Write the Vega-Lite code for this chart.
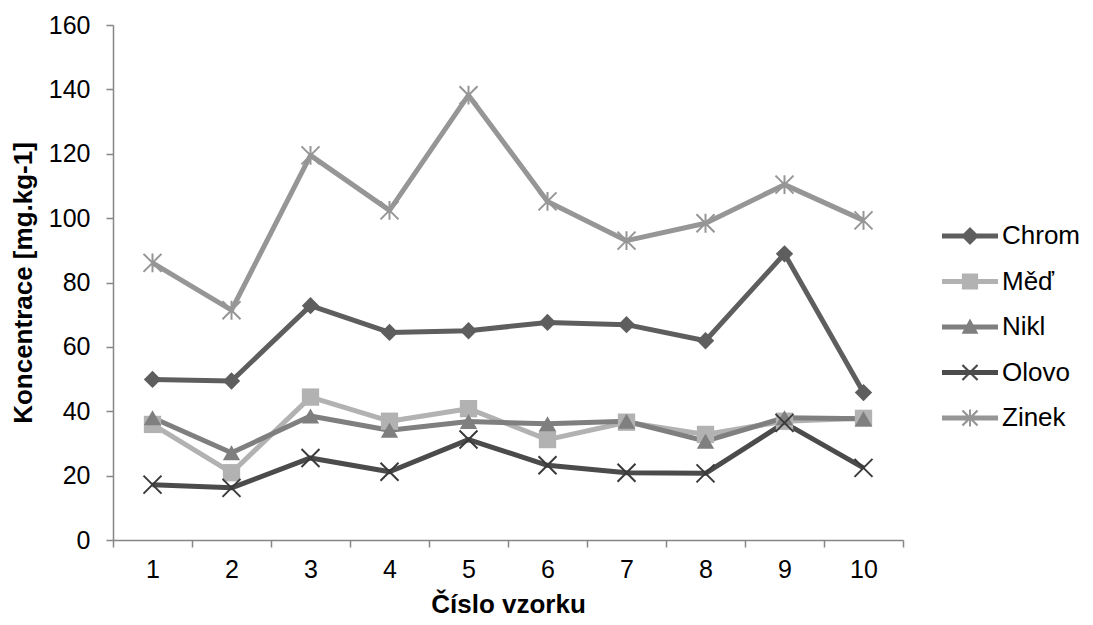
{
  "$schema": "https://vega.github.io/schema/vega-lite/v6.json",
  "width": 790,
  "height": 515,
  "autosize": {"type": "none"},
  "padding": {"left": 113, "top": 25, "right": 190, "bottom": 85},
  "background": "white",
  "config": {"view": {"stroke": null}, "font": "Liberation Sans"},
  "data": {
    "values": [
      {"vzorek": 1, "kov": "Chrom", "hodnota": 49.9},
      {"vzorek": 2, "kov": "Chrom", "hodnota": 49.4},
      {"vzorek": 3, "kov": "Chrom", "hodnota": 72.8},
      {"vzorek": 4, "kov": "Chrom", "hodnota": 64.5},
      {"vzorek": 5, "kov": "Chrom", "hodnota": 65.0},
      {"vzorek": 6, "kov": "Chrom", "hodnota": 67.6},
      {"vzorek": 7, "kov": "Chrom", "hodnota": 66.9},
      {"vzorek": 8, "kov": "Chrom", "hodnota": 61.9},
      {"vzorek": 9, "kov": "Chrom", "hodnota": 88.9},
      {"vzorek": 10, "kov": "Chrom", "hodnota": 45.8},
      {"vzorek": 1, "kov": "Měď", "hodnota": 35.9},
      {"vzorek": 2, "kov": "Měď", "hodnota": 20.9},
      {"vzorek": 3, "kov": "Měď", "hodnota": 44.4},
      {"vzorek": 4, "kov": "Měď", "hodnota": 36.9},
      {"vzorek": 5, "kov": "Měď", "hodnota": 40.8},
      {"vzorek": 6, "kov": "Měď", "hodnota": 31.2},
      {"vzorek": 7, "kov": "Měď", "hodnota": 36.6},
      {"vzorek": 8, "kov": "Měď", "hodnota": 32.8},
      {"vzorek": 9, "kov": "Měď", "hodnota": 36.9},
      {"vzorek": 10, "kov": "Měď", "hodnota": 37.8},
      {"vzorek": 1, "kov": "Nikl", "hodnota": 38.0},
      {"vzorek": 2, "kov": "Nikl", "hodnota": 27.1},
      {"vzorek": 3, "kov": "Nikl", "hodnota": 38.5},
      {"vzorek": 4, "kov": "Nikl", "hodnota": 34.1},
      {"vzorek": 5, "kov": "Nikl", "hodnota": 36.8},
      {"vzorek": 6, "kov": "Nikl", "hodnota": 36.1},
      {"vzorek": 7, "kov": "Nikl", "hodnota": 36.9},
      {"vzorek": 8, "kov": "Nikl", "hodnota": 30.7},
      {"vzorek": 9, "kov": "Nikl", "hodnota": 38.0},
      {"vzorek": 10, "kov": "Nikl", "hodnota": 37.7},
      {"vzorek": 1, "kov": "Olovo", "hodnota": 17.2},
      {"vzorek": 2, "kov": "Olovo", "hodnota": 16.2},
      {"vzorek": 3, "kov": "Olovo", "hodnota": 25.5},
      {"vzorek": 4, "kov": "Olovo", "hodnota": 21.2},
      {"vzorek": 5, "kov": "Olovo", "hodnota": 31.2},
      {"vzorek": 6, "kov": "Olovo", "hodnota": 23.2},
      {"vzorek": 7, "kov": "Olovo", "hodnota": 20.9},
      {"vzorek": 8, "kov": "Olovo", "hodnota": 20.7},
      {"vzorek": 9, "kov": "Olovo", "hodnota": 36.4},
      {"vzorek": 10, "kov": "Olovo", "hodnota": 22.4},
      {"vzorek": 1, "kov": "Zinek", "hodnota": 86.1},
      {"vzorek": 2, "kov": "Zinek", "hodnota": 71.4},
      {"vzorek": 3, "kov": "Zinek", "hodnota": 119.5},
      {"vzorek": 4, "kov": "Zinek", "hodnota": 102.4},
      {"vzorek": 5, "kov": "Zinek", "hodnota": 138.2},
      {"vzorek": 6, "kov": "Zinek", "hodnota": 105.2},
      {"vzorek": 7, "kov": "Zinek", "hodnota": 93.0},
      {"vzorek": 8, "kov": "Zinek", "hodnota": 98.4},
      {"vzorek": 9, "kov": "Zinek", "hodnota": 110.4},
      {"vzorek": 10, "kov": "Zinek", "hodnota": 99.3}
    ]
  },
  "encoding": {
    "x": {
      "field": "vzorek",
      "type": "ordinal",
      "title": "Číslo vzorku",
      "scale": {"type": "band", "paddingInner": 0, "paddingOuter": 0},
      "axis": {
        "labelAngle": 0,
        "tickBand": "extent",
        "tickSize": 7,
        "tickColor": "#868686",
        "tickWidth": 1.5,
        "domainColor": "#868686",
        "domainWidth": 1.5,
        "labelFontSize": 25,
        "labelColor": "black",
        "labelPadding": 10,
        "titleFontSize": 26,
        "titleFontWeight": "bold",
        "titleColor": "black",
        "titlePadding": 9,
        "grid": false
      }
    },
    "y": {
      "field": "hodnota",
      "type": "quantitative",
      "title": "Koncentrace [mg.kg-1]",
      "scale": {"domain": [0, 160], "nice": false},
      "axis": {
        "values": [0, 20, 40, 60, 80, 100, 120, 140, 160],
        "tickSize": 7,
        "tickColor": "#868686",
        "tickWidth": 1.5,
        "domainColor": "#868686",
        "domainWidth": 1.5,
        "labelFontSize": 25,
        "labelColor": "black",
        "labelPadding": 16,
        "titleFontSize": 26,
        "titleFontWeight": "bold",
        "titleColor": "black",
        "titlePadding": 12,
        "grid": false
      }
    },
    "color": {
      "field": "kov",
      "type": "nominal",
      "scale": {
        "domain": ["Chrom", "Měď", "Nikl", "Olovo", "Zinek"],
        "range": ["#5e5e5e", "#b2b2b2", "#7f7f7f", "#4b4b4b", "#969696"]
      },
      "legend": null
    }
  },
  "layer": [
    {
      "mark": {"type": "line", "strokeWidth": 5, "strokeJoin": "round"}
    },
    {
      "transform": [{"filter": "datum.kov == 'Chrom' || datum.kov == 'Měď' || datum.kov == 'Nikl'"}],
      "mark": {"type": "point", "filled": true, "opacity": 1, "size": 300},
      "encoding": {
        "shape": {
          "field": "kov",
          "type": "nominal",
          "scale": {"domain": ["Chrom", "Měď", "Nikl"], "range": ["diamond", "square", "triangle-up"]},
          "legend": null
        }
      }
    },
    {
      "transform": [{"filter": "datum.kov == 'Olovo' || datum.kov == 'Zinek'"}],
      "mark": {"type": "point", "filled": false, "opacity": 1, "size": 324, "strokeWidth": 2},
      "encoding": {
        "shape": {
          "field": "kov",
          "type": "nominal",
          "scale": {
            "domain": ["Olovo", "Zinek"],
            "range": ["M-1,-1L1,1M-1,1L1,-1", "M-1,-1L1,1M-1,1L1,-1M0,-1.05L0,1.05"]
          },
          "legend": null
        },
        "color": {
          "field": "kov",
          "type": "nominal",
          "scale": {"domain": ["Olovo", "Zinek"], "range": ["#3a3a3a", "#969696"]},
          "legend": null
        }
      }
    },
    {
      "transform": [{"filter": "datum.hodnota < 0"}],
      "mark": {"type": "point", "filled": true, "opacity": 1, "size": 3136, "strokeWidth": 0},
      "encoding": {
        "color": {
          "field": "kov",
          "type": "nominal",
          "scale": {
            "domain": ["Chrom", "Měď", "Nikl", "Olovo", "Zinek"],
            "range": ["#5e5e5e", "#b2b2b2", "#7f7f7f", "#4b4b4b", "#969696"]
          },
          "legend": {
            "title": null,
            "orient": "none",
            "legendX": 829,
            "legendY": 183,
            "labelFontSize": 26,
            "labelColor": "black",
            "labelOffset": 4,
            "rowPadding": 4.5,
            "symbolSize": 3136,
            "symbolStrokeWidth": 0,
            "symbolOpacity": 1
          }
        },
        "shape": {
          "field": "kov",
          "type": "nominal",
          "scale": {
            "domain": ["Chrom", "Měď", "Nikl", "Olovo", "Zinek"],
            "range": [
              "M-1,-0.09H1V0.09H-1ZM0,-0.32L0.32,0L0,0.32L-0.32,0Z",
              "M-1,-0.09H1V0.09H-1ZM-0.29,-0.29H0.29V0.29H-0.29Z",
              "M-1,-0.09H1V0.09H-1ZM0,-0.3L0.3,0.24L-0.3,0.24Z",
              "M-1,-0.09H1V0.09H-1ZM-0.242,-0.298L0.298,0.242L0.242,0.298L-0.298,-0.242ZM-0.242,0.298L-0.298,0.242L0.242,-0.298L0.298,-0.242Z",
              "M-1,-0.09H1V0.09H-1ZM-0.242,-0.298L0.298,0.242L0.242,0.298L-0.298,-0.242ZM-0.242,0.298L-0.298,0.242L0.242,-0.298L0.298,-0.242ZM-0.035,-0.3H0.035V0.3H-0.035Z"
            ]
          },
          "legend": {
            "title": null,
            "orient": "none",
            "legendX": 829,
            "legendY": 183,
            "labelFontSize": 26,
            "labelColor": "black",
            "labelOffset": 4,
            "rowPadding": 4.5,
            "symbolSize": 3136,
            "symbolStrokeWidth": 0,
            "symbolOpacity": 1
          }
        }
      }
    }
  ],
  "resolve": {"scale": {"color": "independent", "shape": "independent"}}
}
